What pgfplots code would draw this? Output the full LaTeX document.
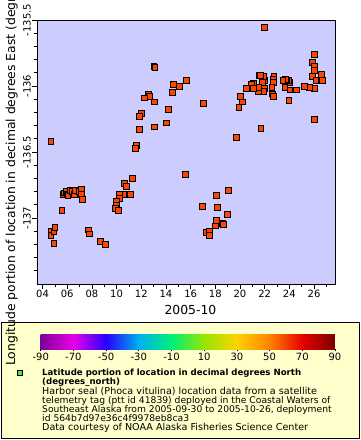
\documentclass[border=0pt]{standalone}
\usepackage{pgfplots}
\pgfplotsset{compat=1.18}
\usepackage{fontspec}
\setmainfont{DejaVu Sans}
\definecolor{plotbg}{RGB}{204,204,255}
\definecolor{panelbg}{RGB}{255,255,204}
\definecolor{markfill}{RGB}{255,68,0}
\definecolor{legmark}{RGB}{85,220,85}
\definecolor{c0}{RGB}{128,0,150}
\definecolor{c1}{RGB}{230,0,230}
\definecolor{c2}{RGB}{40,0,255}
\definecolor{c3}{RGB}{0,175,240}
\definecolor{c4}{RGB}{0,240,120}
\definecolor{c5}{RGB}{150,230,0}
\definecolor{c6}{RGB}{255,210,0}
\definecolor{c7}{RGB}{255,130,0}
\definecolor{c8}{RGB}{230,0,0}
\definecolor{c9}{RGB}{120,0,0}
\pgfdeclarehorizontalshading{cbar}{100bp}{color(0bp)=(c0); color(25bp)=(c0); color(30.556bp)=(c1); color(36.111bp)=(c2); color(41.667bp)=(c3); color(47.222bp)=(c4); color(52.778bp)=(c5); color(58.333bp)=(c6); color(63.889bp)=(c7); color(69.444bp)=(c8); color(75bp)=(c9); color(100bp)=(c9)}
\begin{document}
\begin{tikzpicture}[x=1pt,y=1pt]
\useasboundingbox (0,0) rectangle (360,440);
\draw[fill=panelbg, line width=0.8pt] (1,2) rectangle (359,118);
\begin{axis}[
  at={(37pt,156pt)}, anchor=south west,
  width=298pt, height=264pt, scale only axis,
  xmin=3.55, xmax=27.7, ymin=-137.5, ymax=-135.5,
  axis background/.style={fill=plotbg},
  axis line style={line width=0.8pt},
  xtick={4,6,8,10,12,14,16,18,20,22,24,26},
  xticklabels={04,06,08,10,12,14,16,18,20,22,24,26},
  minor xtick={5,7,9,11,13,15,17,19,21,23,25,27},
  ytick={-137,-136.5,-136,-135.5},
  yticklabels={-137,-136.5,-136,-135.5},
  minor ytick={-137.4,-137.3,-137.2,-137.1,-136.9,-136.8,-136.7,-136.6,-136.4,-136.3,-136.2,-136.1,-135.9,-135.8,-135.7,-135.6},
  tick align=outside, xtick pos=left, ytick pos=left,
  major tick length=4.5pt, minor tick length=2.5pt,
  tick style={black, line width=0.7pt},
  ticklabel style={font=\fontsize{10}{12}\selectfont},
  xticklabel style={inner sep=1.5pt},
  yticklabel style={rotate=90, anchor=south, inner sep=1.5pt},
  xlabel={2005-10},
  ylabel={Longitude portion of location in decimal degrees East (degrees\_east)},
  label style={font=\fontsize{12.4}{14}\selectfont},
  xlabel style={at={(axis description cs:0.515,-0.098)}, anchor=center},
  ylabel style={at={(axis description cs:-0.084,0.5)}, anchor=center, rotate=0},
]
\addplot[only marks, mark=square*, mark size=2.9pt, mark options={fill=markfill, draw=black, line width=0.8pt}] coordinates {
(21.96,-135.555) (26.0,-135.76) (25.84,-135.82) (26.0,-135.85) (26.0,-135.88)
(25.84,-135.93) (26.57,-135.91) (26.16,-135.96) (26.65,-135.96) (26.0,-136.02)
(25.6,-136.01) (25.19,-136.00) (24.54,-136.03) (24.05,-136.03) (24.05,-135.97)
(23.97,-135.96) (23.8,-135.96) (23.65,-135.95) (23.48,-135.96) (23.64,-136.01)
(23.97,-136.11) (26.0,-136.25) (22.75,-135.93) (22.68,-135.95) (22.7,-135.97)
(22.58,-136.01) (22.6,-136.06) (22.68,-136.08) (21.96,-135.96) (21.88,-135.93)
(21.55,-135.92) (21.63,-135.92) (21.8,-135.97) (22.0,-136.02) (21.88,-136.04)
(21.5,-136.04) (21.5,-136.01) (21.06,-135.98) (20.9,-135.99) (21.06,-136.02)
(20.5,-136.02) (20.06,-136.08) (20.22,-136.12) (19.92,-136.16) (19.74,-136.39)
(21.69,-136.32) (17.05,-136.13) (15.67,-135.96) (15.1,-136.0) (14.6,-135.99)
(14.53,-136.05) (14.2,-136.18) (14.04,-136.28) (13.02,-135.85) (13.1,-135.86)
(13.06,-136.12) (13.06,-136.31) (12.57,-136.06) (12.65,-136.08) (12.25,-136.09)
(12.0,-136.21) (11.84,-136.23) (11.84,-136.33) (11.6,-136.45) (11.52,-136.47)
(4.68,-136.42) (15.58,-136.67) (11.27,-136.70) (10.62,-136.74) (10.78,-136.76)
(10.54,-136.82) (10.25,-136.82) (11.1,-136.82) (10.21,-136.85) (9.97,-136.87)
(9.97,-136.90) (9.9,-136.93) (10.13,-136.94) (19.08,-136.79) (18.1,-136.83)
(18.19,-136.92) (16.97,-136.91) (19.0,-136.97) (18.1,-137.02) (18.02,-137.06)
(18.6,-137.04) (18.68,-137.05) (17.3,-137.11) (17.54,-137.10) (17.54,-137.13)
(5.65,-136.82) (5.74,-136.81) (5.9,-136.80) (5.98,-136.82) (6.06,-136.83)
(6.22,-136.79) (6.39,-136.80) (6.55,-136.82) (6.63,-136.79) (6.96,-136.80)
(7.12,-136.78) (7.12,-136.82) (7.2,-136.86) (5.57,-136.94) (4.68,-137.10)
(4.68,-137.13) (4.92,-137.10) (5.0,-137.07) (4.92,-137.19) (7.69,-137.09)
(7.77,-137.12) (8.67,-137.18) (9.07,-137.20)
};
\end{axis}
\begin{axis}[
  at={(40.7pt,90.7pt)}, anchor=south west,
  width=294.3pt, height=14.3pt, scale only axis,
  xmin=-90, xmax=90, ymin=0, ymax=1,
  axis x line*=bottom, axis y line=none,
  x axis line style={draw=none},
  xtick={-90,-70,-50,-30,-10,10,30,50,70,90},
  xticklabels={-90,-70,-50,-30,-10,10,30,50,70,90},
  tick align=outside, major tick length=2pt,
  tick style={black, line width=0.6pt},
  ticklabel style={font=\fontsize{10}{12}\selectfont},
  xticklabel style={inner sep=1.5pt},
]
\fill[shading=cbar] (axis cs:-90,0) rectangle (axis cs:90,1);
\end{axis}
\draw[fill=legmark, line width=0.7pt] (17.5,64.5) rectangle (22.5,69.5);
\node[anchor=base west, inner sep=0, font=\fontsize{8.6}{9}\selectfont\bfseries] at (42,64.3) {Latitude portion of location in decimal degrees North};
\node[anchor=base west, inner sep=0, font=\fontsize{8.6}{9}\selectfont\bfseries] at (42,55.6) {(degrees\_north)};
\node[anchor=base west, inner sep=0, font=\fontsize{9.6}{9}\selectfont] at (42,45.6) {Harbor seal (Phoca vitulina) location data from a satellite};
\node[anchor=base west, inner sep=0, font=\fontsize{9.2}{9}\selectfont] at (42,36.6) {telemetry tag (ptt id 41839) deployed in the Coastal Waters of};
\node[anchor=base west, inner sep=0, font=\fontsize{9.2}{9}\selectfont] at (42,27.6) {Southeast Alaska from 2005-09-30 to 2005-10-26, deployment};
\node[anchor=base west, inner sep=0, font=\fontsize{9.2}{9}\selectfont] at (42,18.9) {id 564b7d97e36c4f9978eb8ca3};
\node[anchor=base west, inner sep=0, font=\fontsize{9.6}{9}\selectfont] at (42,9.9) {Data courtesy of NOAA Alaska Fisheries Science Center};
\end{tikzpicture}
\end{document}
